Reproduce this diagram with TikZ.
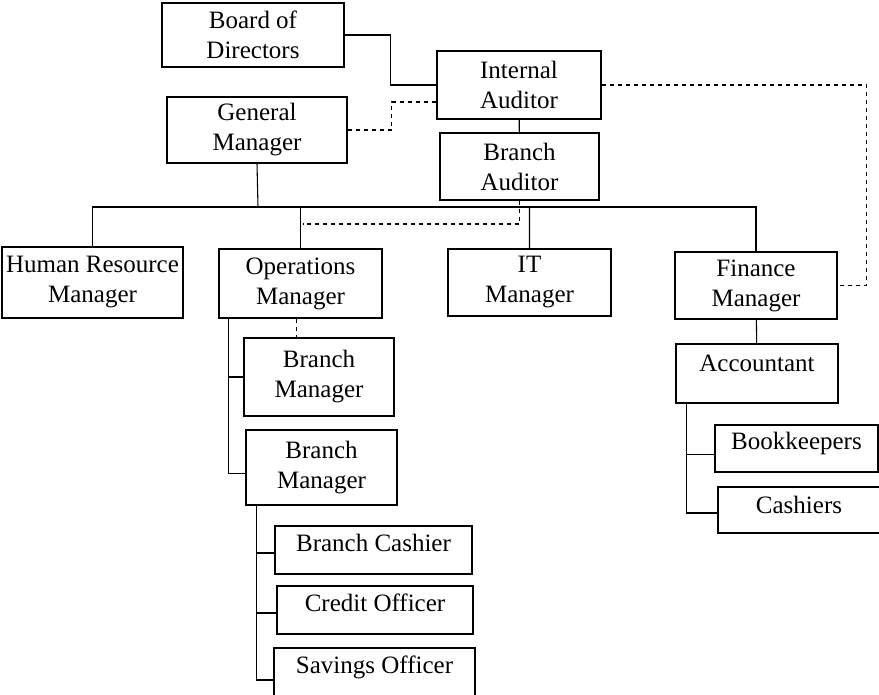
\documentclass[tikz,border=0pt]{standalone}
\usepackage{fontspec}
\setmainfont{Liberation Serif}
\usetikzlibrary{calc}

\begin{document}
\begin{tikzpicture}[x=0.75pt, y=-0.75pt, line width=0.8pt,
		box/.style 2 args={draw, align=center, inner sep=0pt, minimum width=#1*0.75pt, minimum height=#2*0.75pt},
		lift/.style={text depth=#1},
		every node/.append style={font=\fontsize{18.75}{22.5}\selectfont}]
			%\draw [help lines] (0,0) grid[step=50] (879,694);
			\path[use as bounding box, clip] (0,0) rectangle (879,694);
			\node[box={182}{64}] (board) at (253,35) {Board of\\Directors};
			\node[box={164}{68}] (ia) at (519,85) {Internal\\Auditor};
			\node[box={180}{66}] (gm) at (257,130) {General\\Manager};
			\node[box={159}{67}] (ba) at (519.5,166.5) {Branch\\Auditor};
			\node[box={181}{71}] (hr) at (92.5,282.5) {Human Resource\\Manager};
			\node[box={163}{69}] (ops) at (300.5,283.5) {Operations\\Manager};
			\node[box={163}{67}] (it) at (529.5,282.5) {IT\\Manager};
			\node[box={162}{67}] (fin) at (756,285.5) {Finance\\Manager};
			\node[box={162}{59}, lift=16pt] (acc) at (757,373.5) {Accountant};
			\node[box={163}{47}, lift=12pt] (book) at (796.5,448.5) {Bookkeepers};
			\node[box={162}{46}, lift=7.5pt] (cash) at (799,510) {Cashiers};
			\node[box={150}{78}] (bm1) at (319,377) {Branch\\Manager};
			\node[box={151}{75}] (bm2) at (321.5,467.5) {Branch\\Manager};
			\node[box={197}{48}, lift=10.5pt] (bcash) at (373.5,550) {Branch Cashier};
			\node[box={196}{48}, lift=10.5pt] (credit) at (375,610) {Credit Officer};
			\node[box={201}{48}, lift=11.5pt] (sav) at (374.5,672) {Savings Officer};
			% top part
			\coordinate (bus) at (258,207);
			\draw (board.east) -- ++(46,0) |- (ia.west);
			\draw[dashed] (gm.east) -- ++(44,0) |- ($(ia.west)+(0,17)$);
			\draw (ia) -- (ba);
			\draw (hr.north) |- (bus) -| (fin.north);
			\draw (gm.south) -- (bus) -| (it.north);
			\draw (ops.north) -- (ops.north |- bus);
			\draw[dashed] (ba.south) |- ($(ops.north |- bus)+(2,17)$);
			\draw[dashed] (ia.east) -- ++(265,0) |- (fin.east);
			% operations
			\coordinate (opsx) at ($(ops.south west)+(10,0)$);
			\coordinate (opsd) at ($(ops.south)+(-4,0)$);
			\draw (opsx) |- (bm1.west);
			\draw (opsx) |- ($(bm2.west)+(0,6)$);
			\draw[dashed] (opsd) -- (opsd |- bm1.north);
			\coordinate (bmx) at ($(bm2.south west)+(11,0)$);
			\draw (bmx) |- ($(bcash.west)+(0,3)$);
			\draw (bmx) |- ($(credit.west)+(0,3)$);
			\draw (bmx) |- ($(sav.west)+(0,8)$);
			% finance
			\draw (fin) -- (acc);
			\coordinate (accx) at ($(acc.south west)+(11,0)$);
			\draw (accx) |- ($(book.west)+(0,6)$);
			\draw (accx) |- ($(cash.west)+(0,3)$);
	\end{tikzpicture}
\end{document}
